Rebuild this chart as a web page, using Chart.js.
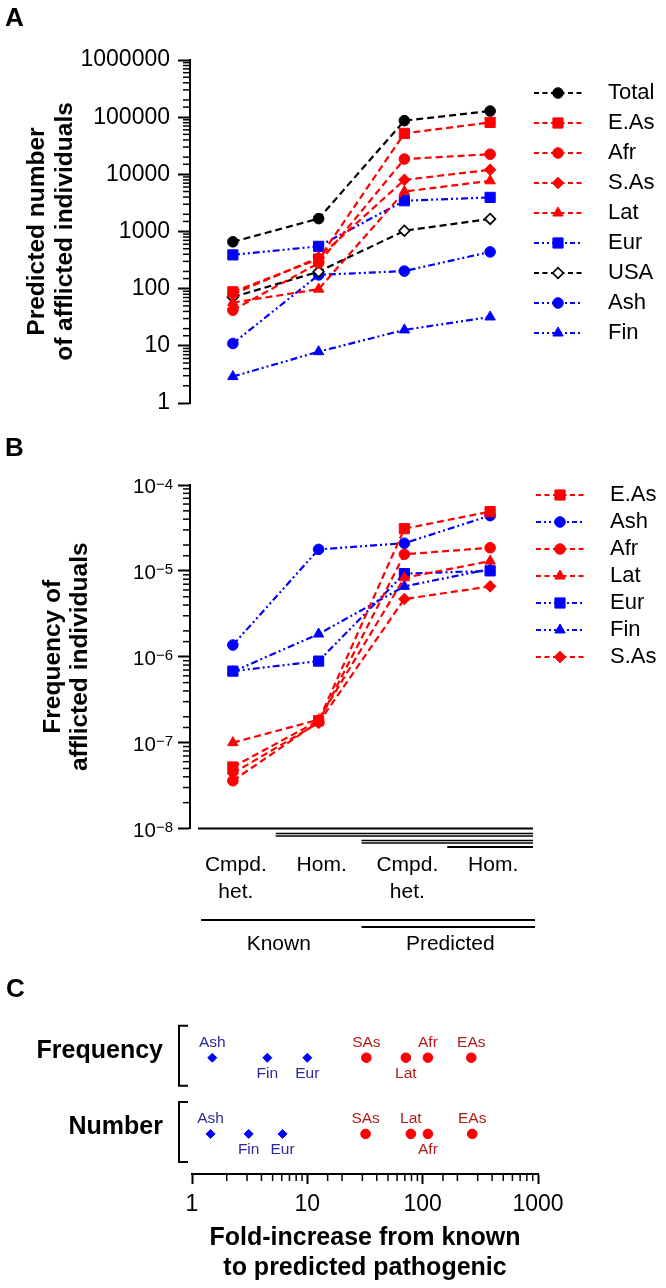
<!DOCTYPE html>
<html>
<head>
<meta charset="utf-8">
<script src="https://cdn.jsdelivr.net/npm/chart.js@4.4.1/dist/chart.umd.min.js"></script>
<style>
  html, body { margin: 0; padding: 0; background: #fff; }
  body { width: 666px; height: 1288px; position: relative; overflow: hidden; font-family: 'Liberation Sans', Arial, sans-serif; }
  .panel { position: absolute; left: 0; width: 666px; }
  .panel canvas { display: block; }
  .plabel { position: absolute; font-weight: bold; font-size: 26px; line-height: 1; color: #000; }
</style>
</head>
<body>
<div class="panel" style="top:0px;height:430px"><canvas id="cA" width="666" height="430"></canvas></div>
<div class="panel" style="top:430px;height:530px"><canvas id="cB" width="666" height="530"></canvas></div>
<div class="panel" style="top:960px;height:328px"><canvas id="cC" width="666" height="328"></canvas></div>
<div class="plabel" style="left:5px;top:4px">A</div>
<div class="plabel" style="left:5px;top:434px">B</div>
<div class="plabel" style="left:6px;top:975px">C</div>
<script>
// ---------------- DATA ----------------
const categories = [['Cmpd.', 'het.'], 'Hom.', ['Cmpd.', 'het.'], 'Hom.'];
const groups = ['Known', 'Predicted'];

// Panel A: predicted number of afflicted individuals
const numTotal = [660, 1680, 87000, 128000];
const numEAs   = [88, 330, 52000, 81000];
const numAfr   = [42, 280, 18500, 22500];
const numSAs   = [80, 350, 8000, 12000];
const numLat   = [57, 98, 5000, 7700];
const numEur   = [390, 550, 3450, 3950];
const numUSA   = [71, 198, 1030, 1660];
const numAsh   = [11, 174, 203, 440];
const numFin   = [2.9, 7.9, 19, 32];
const numTicks = [1, 10, 100, 1000, 10000, 100000, 1000000];

// Panel B: frequency of afflicted individuals
const frqEAs = [5.2e-8, 1.8e-7, 3.1e-5, 4.9e-5];
const frqAsh = [1.37e-6, 1.78e-5, 2.1e-5, 4.4e-5];
const frqAfr = [3.6e-8, 1.75e-7, 1.56e-5, 1.86e-5];
const frqLat = [1.0e-7, 1.85e-7, 8.3e-6, 1.3e-5];
const frqEur = [6.8e-7, 8.9e-7, 9.3e-6, 1.0e-5];
const frqFin = [6.7e-7, 1.84e-6, 6.6e-6, 1.05e-5];
const frqSAs = [4.4e-8, 1.7e-7, 4.7e-6, 6.6e-6];
const frqExponents = [-8, -7, -6, -5, -4];

// Panel C: fold-increase from known to predicted pathogenic
const foldPops = ['Ash', 'Fin', 'Eur', 'SAs', 'Lat', 'Afr', 'EAs'];
const foldFrequency = [1.5, 4.5, 10, 32.5, 71.5, 111, 264];
const foldNumber = [1.45, 3.1, 6.1, 32, 79, 111, 269];
const foldRows = ['Frequency', 'Number'];
const foldTicks = [1, 10, 100, 1000];
const europeanPops = ['Ash', 'Fin', 'Eur'];
const labelBelow = { Frequency: ['Fin', 'Eur', 'Lat'], Number: ['Fin', 'Eur', 'Afr'] };

// ---------------- STYLE ----------------
const FONT = "'Liberation Sans', Arial, Helvetica, sans-serif";
const RED = '#ff0000', BLUE = '#0000ff', BLACK = '#000000';
const DASHED = [7, 4], DASHDOT = [7, 3, 2, 3, 2, 3];
const seriesStyle = {
  'Total': { color: BLACK, dash: DASHED, ps: 'circle', r: 5.3 },
  'E.As':  { color: RED, dash: DASHED, ps: 'rect', r: 7.2 },
  'Afr':   { color: RED, dash: DASHED, ps: 'circle', r: 5.3 },
  'S.As':  { color: RED, dash: DASHED, ps: 'rectRot', r: 5.8 },
  'Lat':   { color: RED, dash: DASHED, ps: 'triangle', r: 6 },
  'Eur':   { color: BLUE, dash: DASHDOT, ps: 'rect', r: 7.2 },
  'USA':   { color: BLACK, dash: DASHED, ps: 'rectRot', r: 5.3, fill: '#ffffff', bw: 1.7 },
  'Ash':   { color: BLUE, dash: DASHDOT, ps: 'circle', r: 5.3 },
  'Fin':   { color: BLUE, dash: DASHDOT, ps: 'triangle', r: 6 }
};

const numberSeries = [
  ['Total', numTotal], ['E.As', numEAs], ['Afr', numAfr], ['S.As', numSAs], ['Lat', numLat],
  ['Eur', numEur], ['USA', numUSA], ['Ash', numAsh], ['Fin', numFin]
];
const frequencySeries = [
  ['E.As', frqEAs], ['Ash', frqAsh], ['Afr', frqAfr], ['Lat', frqLat],
  ['Eur', frqEur], ['Fin', frqFin], ['S.As', frqSAs]
];

Chart.defaults.font.family = FONT;
Chart.defaults.color = '#000';
Chart.defaults.animation = false;
Chart.defaults.events = [];
Chart.defaults.plugins.tooltip.enabled = false;

const isPow10 = v => v > 0 && Math.abs(Math.log10(v) - Math.round(Math.log10(v))) < 1e-6;

function lineDataset(name, data) {
  const s = seriesStyle[name];
  return {
    label: name, data: data,
    borderColor: s.color, backgroundColor: s.fill || s.color,
    borderWidth: 2.2, borderDash: s.dash, tension: 0, fill: false, clip: false,
    pointStyle: s.ps, pointRadius: s.r, pointHoverRadius: s.r,
    pointBackgroundColor: s.fill || s.color, pointBorderColor: s.color, pointBorderWidth: s.bw || 1
  };
}

const swatchCache = {};
function makeSwatch(name) {
  if (swatchCache[name]) return swatchCache[name];
  const s = seriesStyle[name];
  const c = document.createElement('canvas');
  c.width = 63; c.height = 18;
  const g = c.getContext('2d');
  g.strokeStyle = s.color; g.lineWidth = 2.2; g.setLineDash(s.dash === DASHED ? [5, 3.5] : [5, 3, 2, 3, 2, 3]);
  g.beginPath(); g.moveTo(0, 9); g.lineTo(48, 9); g.stroke();
  g.setLineDash([]);
  g.fillStyle = s.fill || s.color; g.strokeStyle = s.color; g.lineWidth = s.bw || 1;
  Chart.helpers.drawPoint(g, { pointStyle: s.ps, radius: s.r, rotation: 0, borderWidth: s.bw || 1 }, 24, 9);
  swatchCache[name] = c;
  return c;
}

function legendOpts(pad) {
  return {
    display: true, position: 'chartArea', align: 'start',
    labels: {
      usePointStyle: true, pointStyleWidth: 63, padding: pad, font: { size: 22 }, color: '#000',
      generateLabels: ch => ch.data.datasets.map((ds, i) => ({
        text: ds.label, pointStyle: makeSwatch(ds.label), fillStyle: 'rgba(0,0,0,0)',
        strokeStyle: 'rgba(0,0,0,0)', lineWidth: 0, hidden: false, datasetIndex: i, fontColor: '#000'
      }))
    }
  };
}

// place the legend box exactly
const legendPlacer = {
  id: 'legendPlacer',
  afterLayout(chart, args, opts) {
    const l = chart.legend; if (!l) return;
    l.left = opts.left; l.top = opts.top; l.right = chart.width; l.bottom = chart.height;
    l.width = l.right - l.left; l.height = l.bottom - l.top;
  }
};

// short minor tick marks of log axes
const minorTicks = {
  id: 'minorTicks',
  afterDraw(chart, args, opts) {
    const ctx = chart.ctx;
    (opts.axes || []).forEach(id => {
      const sc = chart.scales[id];
      ctx.save(); ctx.strokeStyle = '#000'; ctx.lineWidth = 1.5;
      sc.ticks.forEach(t => {
        if (isPow10(t.value)) return;
        const p = sc.getPixelForValue(t.value);
        ctx.beginPath();
        if (sc.isHorizontal()) { const y0 = sc.top + 1; ctx.moveTo(p, y0); ctx.lineTo(p, y0 + 6); }
        else { const x0 = sc.right - 1; ctx.moveTo(x0, p); ctx.lineTo(x0 - 6, p); }
        ctx.stroke();
      });
      ctx.restore();
    });
  }
};

// power-of-ten tick labels with a raised exponent (panel B)
const powerLabels = {
  id: 'powerLabels',
  afterDraw(chart) {
    const ctx = chart.ctx, sc = chart.scales.y;
    ctx.save(); ctx.fillStyle = '#000'; ctx.textBaseline = 'alphabetic';
    frqExponents.forEach(e => {
      const y = sc.getPixelForValue(Math.pow(10, e));
      const exp = '\u2212' + Math.abs(e);
      ctx.font = '15px ' + FONT;
      const ew = ctx.measureText(exp).width;
      const xr = sc.right - 17;
      ctx.textAlign = 'left';
      ctx.fillText(exp, xr - ew, y + 3.5);
      ctx.font = '20.5px ' + FONT;
      ctx.textAlign = 'right';
      ctx.fillText('10', xr - ew, y + 8);
    });
    ctx.restore();
  }
};

// Prism style grouping lines below panel B
const groupLines = {
  id: 'groupLines',
  afterDraw(chart) {
    const ctx = chart.ctx, xs = chart.scales.x, ca = chart.chartArea;
    const px = categories.map((_, i) => xs.getPixelForValue(i));
    const starts = [ca.left + 8, (px[0] + px[1]) / 2, (px[1] + px[2]) / 2, (px[2] + px[3]) / 2];
    const rungs = [[0, 0, 2], [1, 5, 1.5], [1, 7.5, 1.5], [2, 12, 1.5], [2, 14.5, 1.5], [3, 18.5, 2]];
    ctx.save(); ctx.strokeStyle = '#000';
    rungs.forEach(([k, dy, w]) => {
      ctx.lineWidth = w; ctx.beginPath();
      ctx.moveTo(starts[k], ca.bottom + dy); ctx.lineTo(ca.right, ca.bottom + dy); ctx.stroke();
    });
    ctx.lineWidth = 2;
    [[ca.left + 11, 91.5], [starts[2], 98.5]].forEach(([x0, dy]) => {
      ctx.beginPath(); ctx.moveTo(x0, ca.bottom + dy); ctx.lineTo(ca.right + 2, ca.bottom + dy); ctx.stroke();
    });
    ctx.restore();
  }
};

// brackets and point labels of panel C
const foldDecor = {
  id: 'foldDecor',
  afterDatasetsDraw(chart) {
    const ctx = chart.ctx, ys = chart.scales.y, ca = chart.chartArea;
    ctx.save();
    ctx.strokeStyle = '#000'; ctx.lineWidth = 2;
    foldRows.forEach((r, i) => {
      const yc = ys.getPixelForValue(i);
      const x0 = ca.left - 13, x1 = ca.left - 4;
      ctx.beginPath();
      ctx.moveTo(x1, yc - 32); ctx.lineTo(x0, yc - 32); ctx.lineTo(x0, yc + 28); ctx.lineTo(x1, yc + 28);
      ctx.stroke();
    });
    ctx.font = '15.5px ' + FONT;
    ctx.textAlign = 'center'; ctx.textBaseline = 'middle';
    chart.data.datasets.forEach((ds, di) => {
      const meta = chart.getDatasetMeta(di);
      meta.data.forEach((el, k) => {
        const d = ds.data[k];
        const below = labelBelow[d.row].includes(d.pop);
        ctx.fillStyle = ds.labelColor;
        ctx.fillText(d.pop, el.x, el.y + (below ? 16 : -15));
      });
    });
    ctx.restore();
  }
};

const tickColorFn = c => (c.tick && isPow10(c.tick.value)) ? '#000' : 'rgba(0,0,0,0)';

// ---------------- PANEL A ----------------
new Chart(document.getElementById('cA'), {
  type: 'line',
  data: { labels: categories, datasets: numberSeries.map(([n, d]) => lineDataset(n, d)) },
  options: {
    responsive: false, devicePixelRatio: 1,
    layout: { padding: { top: 60, right: 133, bottom: 27, left: 0 } },
    scales: {
      x: { type: 'category', offset: true, display: false },
      y: {
        type: 'logarithmic', min: 1, max: 1000000, position: 'left',
        afterFit: s => { s.width = 190; },
        border: { display: true, color: '#000', width: 2 },
        grid: { display: true, drawOnChartArea: false, drawTicks: true, tickLength: 12, tickWidth: 2, tickColor: tickColorFn },
        ticks: {
          autoSkip: false, padding: 8, font: { size: 23 }, color: '#000',
          callback: v => { const m = numTicks.find(t => Math.abs(t - v) / t < 1e-6); return m !== undefined ? String(m) : ''; }
        },
        title: {
          display: true, text: ['Predicted number', 'of afflicted individuals'], color: '#000',
          font: { size: 24.5, weight: 'bold', lineHeight: 1.12 }, padding: { top: 24, bottom: 0 }
        }
      }
    },
    plugins: {
      legend: legendOpts(8),
      legendPlacer: { left: 526, top: 74 },
      minorTicks: { axes: ['y'] }
    }
  },
  plugins: [legendPlacer, minorTicks]
});

// ---------------- PANEL B ----------------
new Chart(document.getElementById('cB'), {
  type: 'line',
  data: { labels: categories, datasets: frequencySeries.map(([n, d]) => lineDataset(n, d)) },
  options: {
    responsive: false, devicePixelRatio: 1,
    layout: { padding: { top: 55, right: 133, bottom: 0, left: 0 } },
    scales: {
      x: {
        type: 'category', offset: true, position: 'bottom', weight: 0,
        grid: { display: false, drawTicks: false }, border: { display: false },
        ticks: { autoSkip: false, maxRotation: 0, padding: 22.85, labelOffset: 3, font: { size: 21, lineHeight: 1.3 }, color: '#000' },
        afterFit: s => { s.height = 88; }
      },
      x2: {
        type: 'linear', position: 'bottom', weight: 1, min: -0.5, max: 3.5,
        grid: { display: false, drawTicks: false }, border: { display: false },
        afterBuildTicks: s => { s.ticks = groups.map((g, i) => ({ value: 0.5 + 2 * i })); },
        ticks: {
          autoSkip: false, maxRotation: 0, padding: 14.9, labelOffset: 3, font: { size: 21, lineHeight: 1.2 }, color: '#000',
          callback: v => groups[Math.round((v - 0.5) / 2)] || ''
        },
        afterFit: s => { s.height = 43.5; }
      },
      y: {
        type: 'logarithmic', min: 1e-8, max: 1e-4, position: 'left',
        afterFit: s => { s.width = 190; },
        border: { display: true, color: '#000', width: 2 },
        grid: { display: true, drawOnChartArea: false, drawTicks: true, tickLength: 12, tickWidth: 2, tickColor: tickColorFn },
        ticks: { autoSkip: false, padding: 5, font: { size: 21 }, color: '#000', callback: () => '' },
        title: {
          display: true, text: ['Frequency of', 'afflicted individuals'], color: '#000',
          font: { size: 24.5, weight: 'bold', lineHeight: 1.12 }, padding: { top: 39.5, bottom: 0 }
        }
      }
    },
    plugins: {
      legend: legendOpts(5),
      legendPlacer: { left: 531, top: 49 },
      minorTicks: { axes: ['y'] }
    }
  },
  plugins: [legendPlacer, minorTicks, powerLabels, groupLines]
});

// ---------------- PANEL C ----------------
function foldPoints(values, row, european) {
  return foldPops
    .map((p, i) => ({ x: values[i], y: foldRows.indexOf(row), pop: p, row: row }))
    .filter(d => europeanPops.includes(d.pop) === european);
}
function foldDataset(values, row, european) {
  return {
    label: row + (european ? ' (European)' : ' (other)'),
    data: foldPoints(values, row, european),
    pointStyle: european ? 'rectRot' : 'circle',
    pointRadius: european ? 4.5 : 4.8, pointHoverRadius: european ? 4.5 : 4.8,
    backgroundColor: european ? BLUE : RED, borderColor: european ? BLUE : RED, borderWidth: 1,
    labelColor: european ? '#2a2a9c' : '#b01c1c', showLine: false, clip: false
  };
}

new Chart(document.getElementById('cC'), {
  type: 'scatter',
  data: {
    datasets: [
      foldDataset(foldFrequency, 'Frequency', true), foldDataset(foldFrequency, 'Frequency', false),
      foldDataset(foldNumber, 'Number', true), foldDataset(foldNumber, 'Number', false)
    ]
  },
  options: {
    responsive: false, devicePixelRatio: 1,
    layout: { padding: { top: 40, right: 128, bottom: 0, left: 0 } },
    scales: {
      x: {
        type: 'logarithmic', min: 1, max: 1000, position: 'bottom',
        afterFit: s => { s.height = 114; },
        border: { display: true, color: '#000', width: 2 },
        grid: { display: true, drawOnChartArea: false, drawTicks: true, tickLength: 10, tickWidth: 2, tickColor: tickColorFn },
        ticks: {
          autoSkip: false, maxRotation: 0, padding: 7.2, font: { size: 23 }, color: '#000',
          callback: v => { const m = foldTicks.find(t => Math.abs(t - v) / t < 1e-6); return m !== undefined ? String(m) : ''; }
        },
        title: {
          display: true, text: ['Fold-increase from known', 'to predicted pathogenic'], color: '#000',
          font: { size: 25, weight: 'bold', lineHeight: 1.2 }, padding: { top: 4, bottom: 5 }
        }
      },
      y: {
        type: 'linear', reverse: true, min: -0.705, max: 1.526, position: 'left',
        afterFit: s => { s.width = 192; },
        afterBuildTicks: s => { s.ticks = foldRows.map((r, i) => ({ value: i })); },
        grid: { display: false, drawTicks: false }, border: { display: false },
        ticks: {
          autoSkip: false, padding: 29, labelOffset: -7, font: { size: 25, weight: 'bold' }, color: '#000',
          callback: v => foldRows[Math.round(v)] || ''
        }
      }
    },
    plugins: {
      legend: { display: false },
      minorTicks: { axes: ['x'] }
    }
  },
  plugins: [minorTicks, foldDecor]
});
</script>
</body>
</html>
